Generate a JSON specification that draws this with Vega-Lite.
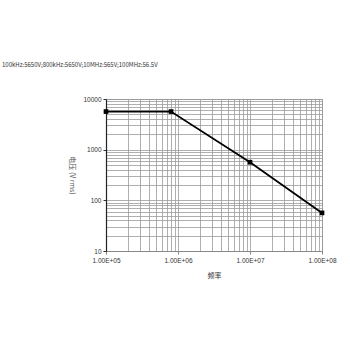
{
  "$schema": "https://vega.github.io/schema/vega-lite/v6.json",
  "autosize": {"type": "none"},
  "width": 216,
  "height": 152,
  "padding": {"left": 106, "top": 99, "right": 28, "bottom": 99},
  "background": "white",
  "title": {
    "text": "100kHz:5650V;800kHz:5650V;10MHz:565V;100MHz:56.5V",
    "anchor": "start",
    "frame": "group",
    "dx": -104,
    "offset": 28,
    "fontSize": 6,
    "fontWeight": "normal",
    "font": "Noto Sans CJK SC",
    "color": "#333"
  },
  "data": {
    "values": [
      {"f": 100000, "v": 5650},
      {"f": 800000, "v": 5650},
      {"f": 10000000, "v": 565},
      {"f": 100000000, "v": 56.5}
    ]
  },
  "encoding": {
    "x": {
      "field": "f",
      "type": "quantitative",
      "scale": {"type": "log", "domain": [100000, 100000000], "nice": false},
      "axis": {
        "title": "频率",
        "titleFont": "Noto Sans CJK SC",
        "titleFontSize": 7,
        "titleFontWeight": "normal",
        "titleColor": "#333",
        "titlePadding": 8,
        "values": [100000, 200000, 300000, 400000, 500000, 600000, 700000, 800000, 900000, 1000000, 2000000, 3000000, 4000000, 5000000, 6000000, 7000000, 8000000, 9000000, 10000000, 20000000, 30000000, 40000000, 50000000, 60000000, 70000000, 80000000, 90000000, 100000000],
        "labelExpr": "abs(log(datum.value)/LN10 - round(log(datum.value)/LN10)) < 0.000001 ? '1.00E+0' + round(log(datum.value)/LN10) : ''",
        "labelFont": "Liberation Sans",
        "labelFontSize": 6.5,
        "labelColor": "#333",
        "labelPadding": 3,
        "labelFlush": false,
        "labelOverlap": false,
        "grid": true,
        "gridColor": "#9a9a9a",
        "gridWidth": 0.8,
        "tickSize": 3,
        "tickColor": "#888",
        "tickOpacity": {"condition": {"test": "abs(log(datum.value)/LN10 - round(log(datum.value)/LN10)) < 0.000001", "value": 1}, "value": 0},
        "domainColor": "#888",
        "domainWidth": 1
      }
    },
    "y": {
      "field": "v",
      "type": "quantitative",
      "scale": {"type": "log", "domain": [10, 10000], "nice": false},
      "axis": {
        "title": "电压 (V rms)",
        "titleFont": "Noto Sans CJK SC",
        "titleFontSize": 7,
        "titleFontWeight": "normal",
        "titleColor": "#555",
        "titleAngle": 90,
        "titlePadding": 14,
        "values": [10, 20, 30, 40, 50, 60, 70, 80, 90, 100, 200, 300, 400, 500, 600, 700, 800, 900, 1000, 2000, 3000, 4000, 5000, 6000, 7000, 8000, 9000, 10000],
        "labelExpr": "abs(log(datum.value)/LN10 - round(log(datum.value)/LN10)) < 0.000001 ? format(datum.value, 'd') : ''",
        "labelFont": "Liberation Sans",
        "labelFontSize": 6.5,
        "labelColor": "#333",
        "labelPadding": 2,
        "labelFlush": false,
        "labelOverlap": false,
        "grid": true,
        "gridColor": "#9a9a9a",
        "gridWidth": 0.8,
        "tickSize": 3,
        "tickColor": "#333",
        "tickOpacity": {"condition": {"test": "abs(log(datum.value)/LN10 - round(log(datum.value)/LN10)) < 0.000001", "value": 1}, "value": 0},
        "domainColor": "#222",
        "domainWidth": 1.2
      }
    }
  },
  "layer": [
    {"mark": {"type": "line", "color": "black", "strokeWidth": 1.8}},
    {"mark": {"type": "point", "shape": "square", "filled": true, "color": "black", "size": 22, "opacity": 1}}
  ],
  "config": {
    "view": {"stroke": "#999", "strokeWidth": 1}
  }
}
